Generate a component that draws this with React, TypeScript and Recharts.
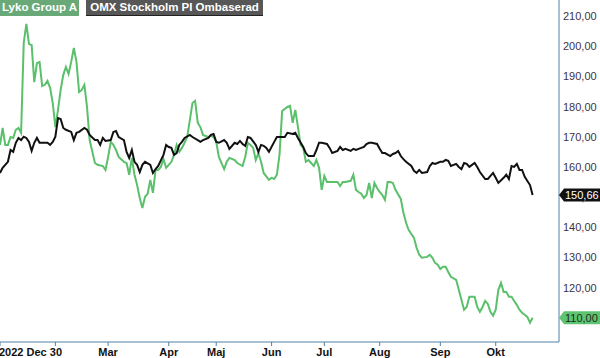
import { LineChart, Line, XAxis, YAxis } from "recharts";

// trading-day index -> month start ticks
const monthTicks = [0, 21, 41, 64, 82, 103, 123, 144, 167, 188];
const monthLabels = ["2022 Dec 30", "", "Mar", "Apr", "Maj", "Jun", "Jul", "Aug", "Sep", "Okt"];
const priceTicks = [110, 120, 130, 140, 150, 160, 170, 180, 190, 200, 210];

const lykoDays = [
  0, 1, 2, 3, 4, 5, 6, 7, 8, 9, 10, 11, 12, 13, 14, 15, 16, 17, 18, 19, 20, 21, 22, 23, 24, 25, 26, 27, 28, 29,
  30, 31, 32, 33, 34, 36, 37, 39, 40, 41, 42, 43, 44, 45, 47, 48, 49, 50, 51, 52, 53, 54, 55, 56, 57, 58, 59, 60,
  61, 62, 63, 64, 65, 66, 67, 68, 69, 70, 71, 73, 74, 75, 76, 77, 79, 80, 81, 82, 83, 85, 86, 87, 89, 90, 92, 93,
  94, 95, 96, 97, 98, 99, 100, 102, 103, 104, 105, 106, 107, 109, 110, 111, 112, 113, 114, 115, 116, 117, 118,
  119, 120, 121, 122, 123, 124, 125, 126, 128, 129, 130, 131, 133, 134, 135, 136, 137, 138, 139, 140, 141, 142,
  143, 144, 145, 146, 147, 148, 149, 150, 152, 153, 154, 155, 157, 158, 159, 160, 162, 163, 164, 165, 166, 167,
  168, 169, 170, 171, 173, 174, 175, 176, 177, 178, 179, 180, 181, 182, 183, 184, 185, 186, 187, 188, 189, 190,
  191, 192, 193, 194, 195, 196, 197, 198, 199, 200, 201, 202,
];
const lykoValues = [
  167.3, 172.9, 167.3, 167.3, 169.9, 169.6, 172.3, 172.9, 171.3, 201.1, 207.4, 200.7, 200.4, 188.1, 194.4, 194.8,
  186.8, 187.2, 188.5, 186.2, 181.2, 173.2, 178.9, 185.5, 190.5, 193.1, 190.8, 194.8, 199.4, 194.8,
  184.8, 185.5, 187.2, 179.9, 168.9, 161.3, 160.7, 160.3, 159.0, 163.3, 168.3, 167.3, 165.6, 163.3, 161.7, 161.3,
  157.4, 163.0, 157.4, 154.0, 149.7, 146.4, 150.1, 151.1, 155.7, 151.4, 159.0, 159.0,
  160.0, 162.6, 159.7, 160.7, 161.7, 164.0, 167.3, 165.0, 166.3, 168.0, 169.9, 181.2, 181.9, 174.6, 173.2, 170.6,
  169.9, 170.3, 169.9, 168.3, 163.3, 159.3, 161.7, 163.0, 162.3, 161.3, 160.3, 163.3,
  168.0, 167.3, 166.3, 162.3, 164.6, 161.7, 158.0, 155.7, 156.4, 156.0, 157.4, 164.0, 178.5, 179.9, 180.2, 174.6,
  178.9, 173.2, 167.3, 166.3, 161.7, 162.3, 161.3,
  160.3, 162.3, 159.7, 152.4, 157.0, 155.0, 155.0, 155.0, 155.0, 153.7, 155.0, 155.0, 155.4, 157.4, 152.4, 151.7,
  151.1, 149.7, 150.7, 154.7, 149.7, 154.7,
  153.0, 151.7, 150.7, 149.1, 155.0, 155.0, 154.7, 152.4, 149.4, 144.8, 141.5, 139.1, 136.5, 133.2, 130.9, 129.9,
  130.2, 130.9, 129.9, 128.2, 127.6, 126.2,
  126.9, 126.9, 125.2, 123.6, 122.6, 119.3, 116.0, 112.7, 113.6, 117.0, 117.0, 117.0, 113.6, 112.0, 113.6, 115.6,
  114.6, 112.0, 110.7, 112.7, 119.3, 121.6,
  118.6, 118.6, 117.0, 117.0, 115.6, 114.3, 112.7, 111.7, 111.0, 110.3, 108.4, 110.0,
];

const omxDays = [
  0, 1, 3, 4, 5, 6, 7, 8, 9, 10, 11, 12, 13, 14, 15, 16, 18, 19, 20, 21, 22, 23, 24, 25, 27, 28, 29, 30, 32, 33,
  34, 36, 37, 38, 39, 40, 42, 43, 44, 45, 47, 48, 49, 50, 51, 52, 53, 54, 55, 57, 58, 59, 60, 62, 63, 64, 65, 66,
  67, 68, 69, 70, 72, 73, 75, 76, 77, 79, 80, 81, 82, 83, 85, 86, 87, 89, 90, 91, 92, 93, 94, 95, 97, 98, 99, 100,
  101, 102, 104, 105, 106, 108, 109, 111, 112, 113, 115, 116, 117, 119, 120, 121, 122, 124, 125, 126, 128, 129,
  130, 131, 133, 134, 135, 136, 138, 139, 140, 141, 143, 144, 145, 146, 148, 149, 150, 151, 152, 153, 154, 156,
  157, 158, 159, 160, 162, 163, 164, 165, 167, 168, 169, 170, 171, 173, 174, 175, 176, 177, 178, 180, 181, 182,
  184, 185, 187, 188, 189, 191, 192, 193, 194, 195, 196, 197, 198, 199, 201, 202,
];
const omxValues = [
  158.0, 159.7, 161.7, 165.6, 165.0, 168.0, 169.6, 168.9, 170.0, 169.6, 168.3, 165.3, 168.0, 169.6, 168.0, 168.0,
  168.0, 167.3, 168.3, 170.0, 176.2, 175.9, 172.9, 172.3, 171.6, 168.9, 171.3, 171.6, 172.9, 172.3,
  170.6, 168.9, 168.9, 167.3, 169.6, 168.6, 168.9, 171.6, 171.9, 169.9, 168.9, 165.0, 163.0, 165.6, 161.7, 160.7,
  158.3, 160.7, 161.7, 160.7, 158.0, 159.3, 160.3, 164.0, 167.3, 166.6, 166.3, 164.0,
  164.6, 167.3, 168.3, 169.6, 170.6, 169.9, 168.9, 168.3, 168.9, 169.6, 170.6, 170.9, 168.3, 168.0, 168.9, 168.0,
  166.0, 168.0, 167.6, 168.6, 167.6, 167.0, 169.9, 169.6, 167.3, 165.0, 167.3, 167.0,
  166.3, 165.0, 168.3, 169.9, 169.9, 169.9, 171.3, 170.9, 171.3, 169.6, 166.6, 164.6, 163.6, 163.6, 165.6, 168.0,
  168.0, 167.6, 166.3, 164.6, 165.3, 166.6,
  165.6, 166.0, 165.3, 166.0, 165.6, 166.0, 166.6, 167.6, 168.0, 168.0, 167.6, 166.0, 164.6, 164.6, 163.6, 164.3,
  164.6, 165.3, 163.6, 162.6, 161.7, 160.3,
  158.7, 158.0, 159.0, 158.0, 158.3, 160.3, 161.3, 161.0, 161.7, 161.7, 162.3, 162.0, 160.3, 161.0, 160.0, 159.3,
  161.3, 161.0, 160.0, 161.3, 160.0, 158.3,
  156.0, 156.0, 158.0, 156.4, 154.7, 156.4, 157.4, 156.0, 160.3, 160.0, 161.0, 159.0, 159.0, 156.7, 154.0, 150.66,
];

const lykoData = lykoDays.map((day, i) => ({ day, value: lykoValues[i] }));
const omxData = omxDays.map((day, i) => ({ day, value: omxValues[i] }));
const lykoLast = lykoValues[lykoValues.length - 1];
const omxLast = omxValues[omxValues.length - 1];

const FONT = "'Liberation Sans', Arial, sans-serif";
const AXIS_COLOR = "#4f81a6";
const GREEN = "#5ac06b";

function fmt(v: number) {
  return v.toFixed(2).replace(".", ",");
}

function MonthTick({ x, y, payload, index }: any) {
  const label = monthLabels[monthTicks.indexOf(payload.value)] ?? "";
  return (
    <text
      x={index === 0 ? x - 1 : x}
      y={y + 10}
      textAnchor={index === 0 ? "start" : "middle"}
      fontFamily={FONT}
      fontSize={11}
      fontWeight="bold"
      fill="#111"
    >
      {label}
    </text>
  );
}

// price labels on the right; the last prices are drawn as tags (after the plain labels, so on top)
function PriceTick({ x, y, payload }: any) {
  const v = payload.value;
  const tag =
    v === omxLast ? { fill: "#111", color: "#fff" } : v === lykoLast ? { fill: "#5ec46f", color: "#1d2b1d" } : null;
  if (!tag) {
    return (
      <text x={x} y={y + 4} fontFamily={FONT} fontSize={11} fill="#3d3346">
        {fmt(v)}
      </text>
    );
  }
  const left = x - 4;
  return (
    <g>
      <path d={`M${left} ${y} L${left + 5} ${y - 6.5} H600 V${y + 6.5} H${left + 5} Z`} fill={tag.fill} />
      <text x={left + 6} y={y + 4} fontFamily={FONT} fontSize={11} fill={tag.color}>
        {fmt(v)}
      </text>
    </g>
  );
}

export default function App() {
  return (
    <div style={{ position: "absolute", left: 0, top: 0, width: 600, height: 358, background: "#fff" }}>
      <LineChart width={600} height={358} margin={{ top: 0, right: 0, bottom: 0, left: 0 }}>
        <XAxis
          type="number"
          dataKey="day"
          domain={[0, 212]}
          ticks={monthTicks}
          interval={0}
          allowDataOverflow
          height={16}
          stroke={AXIS_COLOR}
          tickSize={4}
          tickMargin={0}
          tick={<MonthTick />}
        />
        <YAxis
          orientation="right"
          type="number"
          domain={[102, 215.3]}
          ticks={[...priceTicks.filter((t) => t !== lykoLast), lykoLast, omxLast]}
          interval={0}
          allowDataOverflow
          width={41}
          stroke={AXIS_COLOR}
          tickLine={false}
          tickSize={2}
          tickMargin={2}
          tick={<PriceTick />}
        />
        <Line
          data={lykoData}
          dataKey="value"
          type="linear"
          stroke={GREEN}
          strokeWidth={2}
          dot={false}
          isAnimationActive={false}
        />
        <Line
          data={omxData}
          dataKey="value"
          type="linear"
          stroke="#111"
          strokeWidth={2}
          dot={false}
          isAnimationActive={false}
        />
      </LineChart>
      <div
        style={{
          position: "absolute",
          left: 0,
          top: 0,
          display: "flex",
          gap: 7,
          fontFamily: FONT,
          fontSize: 11.5,
          fontWeight: "bold",
          color: "#fff",
          lineHeight: "15px",
        }}
      >
        <div style={{ background: "#69a978", padding: "0 2px" }}>Lyko Group A</div>
        <div style={{ background: "#575757", padding: "0 4px", borderBottom: "1px solid #222" }}>
          OMX Stockholm PI Ombaserad
        </div>
      </div>
    </div>
  );
}
